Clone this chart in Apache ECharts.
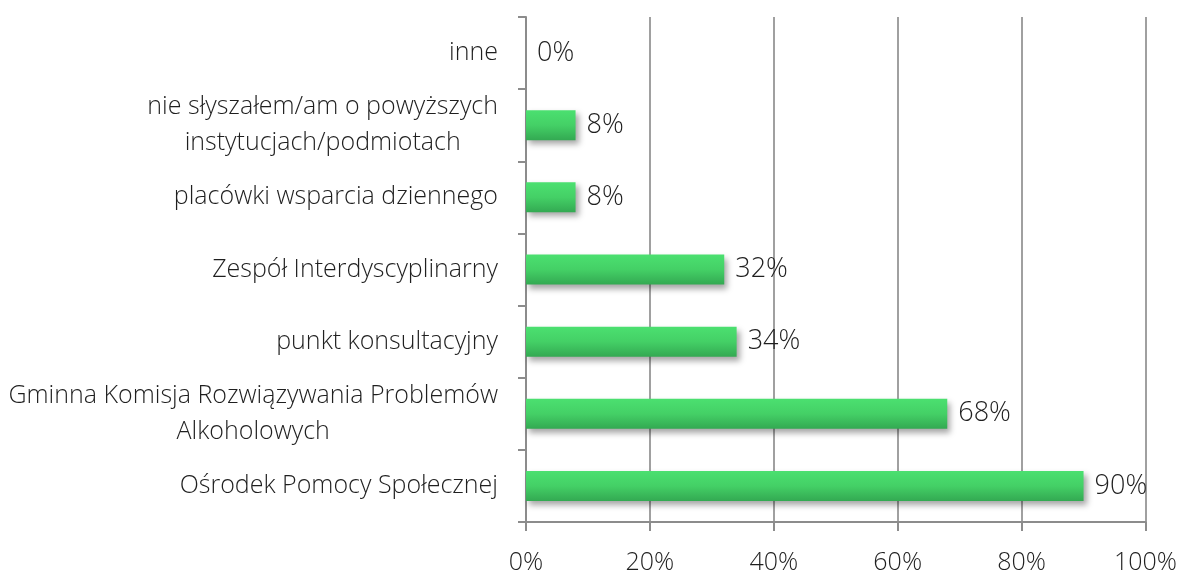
<!DOCTYPE html>
<html>
<head>
<meta charset="utf-8">
<script src="https://cdn.jsdelivr.net/npm/echarts@6/dist/echarts.min.js"></script>
<style>
  html, body { margin: 0; padding: 0; background: #ffffff; }
  #chart { width: 1180px; height: 575px; }
</style>
</head>
<body>
<div id="chart"></div>
<script>
// Categories listed bottom to top (category axis starts at the bottom)
const categories = [
  'Ośrodek Pomocy Społecznej',
  'Gminna Komisja Rozwiązywania Problemów\nAlkoholowych',
  'punkt konsultacyjny',
  'Zespół Interdyscyplinarny',
  'placówki wsparcia dziennego',
  'nie słyszałem/am o powyższych\ninstytucjach/podmiotach',
  'inne'
];
const values = [90, 68, 34, 32, 8, 8, 0];
const xTicks = [0, 20, 40, 60, 80, 100];

const FONT = '"Open Sans", "Segoe UI", sans-serif';
const TEXT = '#1f1f1f';
const chart = echarts.init(document.getElementById('chart'));

chart.setOption({
  animation: false,
  grid: { left: 526, right: 34, top: 17, bottom: 51, containLabel: false },
  xAxis: {
    type: 'value',
    min: xTicks[0],
    max: xTicks[xTicks.length - 1],
    interval: xTicks[1] - xTicks[0],
    axisLine: { show: true, lineStyle: { color: '#8c8c8c', width: 2 } },
    axisTick: { show: true, length: 9, lineStyle: { color: '#8c8c8c', width: 2 } },
    splitLine: { show: true, lineStyle: { color: '#a0a0a0', width: 2 } },
    axisLabel: {
      margin: 28,
      fontFamily: FONT, fontWeight: 300, fontSize: 25, color: TEXT,
      formatter: v => v + '%'
    }
  },
  yAxis: {
    type: 'category',
    data: categories,
    axisLine: { show: true, lineStyle: { color: '#8c8c8c', width: 2 } },
    axisTick: { show: true, length: 8, lineStyle: { color: '#8c8c8c', width: 2 } },
    axisLabel: {
      margin: 28,
      fontFamily: FONT, fontWeight: 300, fontSize: 25, color: TEXT,
      lineHeight: 36,
      formatter: v => v.split('\n').map(l => '{c|' + l + '}').join('\n'),
      rich: { c: { align: 'center', fontFamily: FONT, fontWeight: 300, fontSize: 25, color: TEXT, lineHeight: 36 } }
    }
  },
  series: [{
    type: 'bar',
    data: values,
    barWidth: 30,
    itemStyle: {
      color: new echarts.graphic.LinearGradient(0, 0, 0, 1, [
        { offset: 0, color: '#4be070' },
        { offset: 0.5, color: '#44d066' },
        { offset: 1, color: '#33a952' }
      ]),
      shadowColor: 'rgba(0,0,0,0.35)',
      shadowBlur: 6,
      shadowOffsetX: 3,
      shadowOffsetY: 4
    },
    label: {
      show: true,
      position: 'right',
      distance: 11,
      fontFamily: FONT, fontWeight: 300, fontSize: 27, color: TEXT,
      formatter: p => p.value + '%'
    }
  }]
});
</script>
</body>
</html>
